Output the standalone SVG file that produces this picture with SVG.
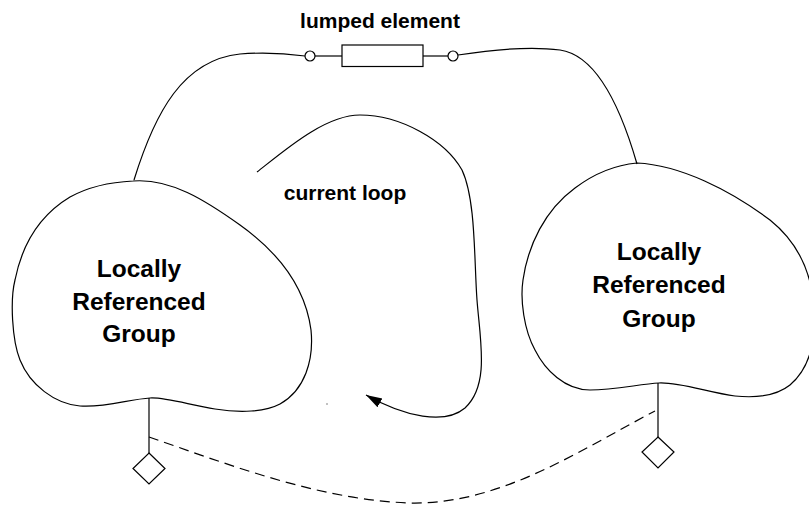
<svg xmlns="http://www.w3.org/2000/svg" width="809" height="508" viewBox="0 0 809 508">
<defs>
<style>
.ln{fill:none;stroke:#000;stroke-width:1.2}
.sh{fill:#fff;stroke:#000;stroke-width:1.2}
.lbl{font-family:"Liberation Sans",Arial,sans-serif;font-weight:bold;fill:#000;text-anchor:middle}
.big{font-size:24.5px}
.sm{font-size:21px}
.dash{fill:none;stroke:#000;stroke-width:1.2;stroke-dasharray:10 6}
</style>
<marker id="arrow" markerUnits="userSpaceOnUse" markerWidth="17" markerHeight="11" refX="16" refY="5" orient="auto">
<path d="M0,0 L16,5 L0,10 z" fill="#000"/>
</marker>
</defs>
<rect width="809" height="508" fill="#fff"/>

<g id="connectors">
<path id="wire-left" class="ln" d="M134,180 C155,112 183,60 240,54 C265,52 290,54 305,56"/>
<path id="wire-right" class="ln" d="M458,55 C490,50 530,46 560,50 C595,55 620,105 637,164"/>
<path id="current-loop" class="ln" marker-end="url(#arrow)" d="M257,172 C285,150 325,115 360,115 C400,115 445,140 462,170 C476,200 474,260 477,300 C480,340 490,385 465,408 C445,425 405,417 366,395"/>
<path id="ground-left" class="ln" d="M149,398 V453"/>
<path id="ground-right" class="ln" d="M658,383 V437"/>
<path id="reference-link" class="dash" d="M149,437 C230,465 320,500 410,503 C500,505 580,450 655,411"/>
</g>

<g id="lumped-element">
<line class="ln" x1="315" y1="56" x2="342" y2="56"/>
<line class="ln" x1="423" y1="56" x2="448" y2="56"/>
<rect class="sh" x="342" y="45" width="81" height="21.5"/>
<circle class="sh" cx="310" cy="56" r="5"/>
<circle class="sh" cx="453" cy="56" r="5"/>
<text class="lbl sm" x="380" y="28">lumped element</text>
</g>

<g id="node-left-group">
<path class="ln" d="M133,181 C170,178 205,200 240,225 C275,250 305,285 311,330 C314,360 305,390 280,404 C265,412 240,413 215,409 C190,405 165,397 150,398 C130,399 105,408 80,406 C55,404 30,385 20,360 C12,340 10,300 15,280 C22,245 40,215 70,197 C90,186 112,182 133,181 Z"/>
<text class="lbl big" x="139" y="277">Locally</text>
<text class="lbl big" x="139" y="310">Referenced</text>
<text class="lbl big" x="139" y="342">Group</text>
</g>

<g id="node-right-group">
<path class="ln" d="M637,163 C680,165 730,190 770,220 C795,240 812,270 814,310 C816,345 808,370 790,385 C775,397 755,398 735,396 C710,393 680,382 659,383 C640,384 615,390 590,390 C565,390 545,370 535,350 C524,330 520,300 523,280 C528,245 545,210 575,188 C595,173 615,165 637,163 Z"/>
<text class="lbl big" x="659" y="260">Locally</text>
<text class="lbl big" x="659" y="293">Referenced</text>
<text class="lbl big" x="659" y="327">Group</text>
</g>

<g id="ground-left-symbol">
<path class="sh" d="M149,453 L165,468.5 L149,484 L133,468.5 Z"/>
</g>
<g id="ground-right-symbol">
<path class="sh" d="M658,437 L674,452 L658,468 L642,452 Z"/>
</g>

<g id="current-loop-label">
<text class="lbl sm" x="345" y="200">current loop</text>
</g>
<circle cx="327" cy="404" r="0.7" fill="#555"/>
</svg>
